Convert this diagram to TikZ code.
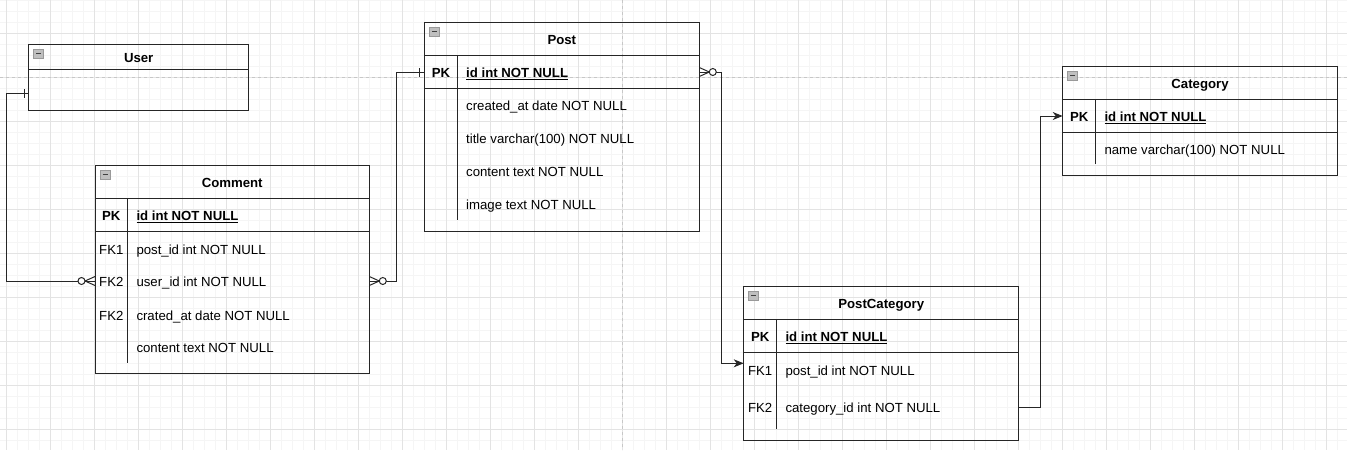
\documentclass[tikz,border=0pt]{standalone}
\usepackage{fontspec}
\setmainfont{Liberation Sans}
\usetikzlibrary{arrows.meta,calc}
\tikzset{>={Stealth[length=10pt,width=8pt,inset=3pt]}}
\tikzset{
  tbl/.style={draw=black!85, line width=1pt, inner sep=0pt, outer sep=0pt, anchor=north west},
  ttl/.style={font=\fontsize{13.2}{15}\selectfont\bfseries, inner sep=0pt, text height=11.5pt, text depth=0pt},
  keycol/.style={font=\fontsize{13.2}{15}\selectfont, inner sep=0pt, text height=11.5pt, text depth=0pt},
  fld/.style={font=\fontsize{13.2}{15}\selectfont, inner sep=0pt, anchor=west, text height=11.5pt, text depth=0pt},
  pkfld/.style={fld, font=\fontsize{13.2}{15}\selectfont\bfseries},
  rel/.style={draw=black!85, line width=1pt},
  minorgrid/.style={draw=black!4, line width=0.8pt},
  majorgrid/.style={draw=black!11, line width=0.8pt},
  pagebreak/.style={draw=black!22, line width=0.8pt, dash pattern=on 3pt off 3pt},
  pics/zeromany/.style={code={
    \draw[rel] (0,-4.5) -- (10,0) -- (0,4.5);
    \draw[rel, fill=white] (13.5,0) circle[radius=3.5];
  }},
  pics/onetick/.style={code={\draw[rel] (4.5,-4.5) -- (4.5,4.5);}},
  pics/minusicon/.style={code={
    \draw[draw=black!40, fill=black!25, line width=0.8pt] (5,5) rectangle (15,14);
    \draw[black!75, line width=1pt] (7.5,9.5) -- (12.5,9.5);
  }},
}

\begin{document}
\begin{tikzpicture}[x=1pt, y=-1pt]
\useasboundingbox (0,0) rectangle (1347,450);

% background grid
\foreach \i in {0,...,121} \draw[minorgrid] ({6.3+11*\i},0) -- ({6.3+11*\i},450);
\foreach \i in {0,...,40} \draw[minorgrid] (0,{0.3+11*\i}) -- (1347,{0.3+11*\i});
\foreach \i in {0,...,30} \draw[majorgrid] ({6.3+44*\i},0) -- ({6.3+44*\i},450);
\foreach \i in {0,...,9} \draw[majorgrid] (0,{33.3+44*\i}) -- (1347,{33.3+44*\i});
\draw[pagebreak] (0,77.3) -- (1347,77.3);
\draw[pagebreak] (622.7,0) -- (622.7,450);

% User
\node[tbl, minimum width=220pt, minimum height=65.7pt] (user) at (28.7,44.3) {};
\draw[rel] (28.7,69.3) -- (248.7,69.3);
\pic at (user.north west) {minusicon};
\node[ttl] (user-title) at (138.7,56.8) {User};
\coordinate (user-body) at (138.7,93.3);

% Comment
\node[tbl, minimum width=274.3pt, minimum height=208pt] (comment) at (95,165.3) {};
\draw[rel] (95,198) -- (369.3,198);
\draw[rel] (95,231) -- (369.3,231);
\draw[rel] (127.7,198) -- (127.7,362.7);
\pic at (comment.north west) {minusicon};
\node[ttl] (comment-title) at (232.2,181.7) {Comment};
\node[keycol, font=\fontsize{13.2}{15}\selectfont\bfseries] at (111.3,215) {PK};
\node[keycol] at (111.3,248.3) {FK1};
\node[keycol] at (111.3,281) {FK2};
\node[keycol] at (111.3,314.3) {FK2};
\node[pkfld] (com-id) at (136.3,215) {\underline{id int NOT NULL}};
\node[fld] (com-post) at (136.3,248.3) {post\_id int NOT NULL};
\node[fld] (com-user) at (136.3,281) {user\_id int NOT NULL};
\node[fld] (com-date) at (136.3,314.3) {crated\_at date NOT NULL};
\node[fld] (com-text) at (136.3,347) {content text NOT NULL};

% Post
\node[tbl, minimum width=275pt, minimum height=208.7pt] (post) at (424.3,22.3) {};
\draw[rel] (424.3,55.3) -- (699.3,55.3);
\draw[rel] (424.3,88) -- (699.3,88);
\draw[rel] (457.7,55.3) -- (457.7,219.7);
\pic at (post.north west) {minusicon};
\node[ttl] (post-title) at (561.8,38.8) {Post};
\node[keycol, font=\fontsize{13.2}{15}\selectfont\bfseries] at (441,72) {PK};
\node[pkfld] (post-id) at (466,72) {\underline{id int NOT NULL}};
\node[fld] (post-date) at (466,105) {created\_at date NOT NULL};
\node[fld] (post-title-col) at (466,138) {title varchar(100) NOT NULL};
\node[fld] (post-text) at (466,171) {content text NOT NULL};
\node[fld] (post-image) at (466,204) {image text NOT NULL};

% Category
\node[tbl, minimum width=274.6pt, minimum height=109.7pt] (cat) at (1062.7,66) {};
\draw[rel] (1062.7,99) -- (1337.3,99);
\draw[rel] (1062.7,132) -- (1337.3,132);
\draw[rel] (1095.7,99) -- (1095.7,164.3);
\pic at (cat.north west) {minusicon};
\node[ttl] (cat-title) at (1200,82.5) {Category};
\node[keycol, font=\fontsize{13.2}{15}\selectfont\bfseries] at (1079.2,116) {PK};
\node[pkfld] (cat-id) at (1104.3,116) {\underline{id int NOT NULL}};
\node[fld] (cat-name) at (1104.3,149) {name varchar(100) NOT NULL};

% PostCategory
\node[tbl, minimum width=275pt, minimum height=154pt] (pc) at (743.7,286) {};
\draw[rel] (743.7,319.3) -- (1018.7,319.3);
\draw[rel] (743.7,352) -- (1018.7,352);
\draw[rel] (776.7,319.3) -- (776.7,429);
\pic at (pc.north west) {minusicon};
\node[ttl] (pc-title) at (881.2,302.7) {PostCategory};
\node[keycol, font=\fontsize{13.2}{15}\selectfont\bfseries] at (760.2,336) {PK};
\node[keycol] at (760.2,369.3) {FK1};
\node[keycol] at (760.2,407) {FK2};
\node[pkfld] (pc-id) at (785.3,336) {\underline{id int NOT NULL}};
\node[fld] (pc-post) at (785.3,369.3) {post\_id int NOT NULL};
\node[fld] (pc-cat) at (785.3,407) {category\_id int NOT NULL};

% relations
\draw[rel] (user.west |- user-body) -- ++(-22,0) |- (comment.west |- com-user);
\draw[rel] (comment.east |- com-user) -- ++(27.4,0) |- (post.west |- post-id);
\draw[rel, ->] (post.east |- post-id) -- ++(22.2,0) |- ($(pc.west |- pc-post)+(0,-6)$);
\draw[rel, ->] (pc.east |- pc-cat) -- ++(21.6,0) |- (cat.west |- cat-id);

\pic[rotate=180] at (user.west |- user-body) {onetick};
\pic[rotate=180] at (comment.west |- com-user) {zeromany};
\pic at (comment.east |- com-user) {zeromany};
\pic[rotate=180] at (post.west |- post-id) {onetick};
\pic at (post.east |- post-id) {zeromany};

\end{tikzpicture}
\end{document}
